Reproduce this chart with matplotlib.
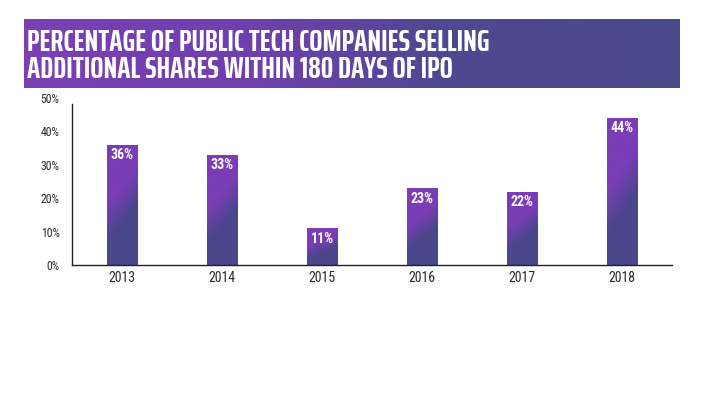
import numpy as np
import matplotlib
matplotlib.use("Agg")
import matplotlib.pyplot as plt
from matplotlib.colors import LinearSegmentedColormap

years = ["2013", "2014", "2015", "2016", "2017", "2018"]
pct = [36, 33, 11, 23, 22, 44]
yticks = [0, 10, 20, 30, 40, 50]
title = "PERCENTAGE OF PUBLIC TECH COMPANIES SELLING\nADDITIONAL SHARES WITHIN 180 DAYS OF IPO"

PURPLE = "#7a3db6"
BLUE = "#4a478b"
plt.rcParams["font.family"] = ["Roboto Condensed", "DejaVu Sans"]
TITLE_FONT = ["Saira ExtraCondensed", "Roboto Condensed", "DejaVu Sans"]

fig = plt.figure(figsize=(7.04, 3.96), dpi=100)

# title banner, gradient purple -> blue left to right
bax = fig.add_axes([24 / 704, 1 - 88 / 396, 656 / 704, 69 / 396])
bcmap = LinearSegmentedColormap.from_list("banner", [(0, "#7b3fb4"), (0.35, "#6f40ad"),
                                                     (0.65, "#4f4890"), (1, "#4a4a8a")])
bax.imshow(np.linspace(0, 1, 256)[None, :], aspect="auto", cmap=bcmap, extent=[0, 1, 0, 1])
bax.set_axis_off()
bax.text(0.004, 0.46, title, color="white", fontsize=22.5, fontweight="bold", family=TITLE_FONT,
         va="center", ha="left", linespacing=0.9, transform=bax.transAxes)

ax = fig.add_axes([72 / 704, 1 - 265 / 396, 600 / 704, 167 / 396])
x = np.arange(len(years))
w = 0.31
bars = ax.bar(x, pct, width=w, color="none", edgecolor="none")

# each bar gets its own diagonal gradient: purple top-left, blue bottom-right
bar_cmap = LinearSegmentedColormap.from_list("bar", [(0, BLUE), (0.35, BLUE), (0.65, PURPLE), (1, PURPLE)])
gx, gy = np.meshgrid(np.linspace(0, 1, 40), np.linspace(0, 1, 200))
grad = 0.8 * gy + 0.25 * (1 - gx)
for b, v in zip(bars, pct):
    x0 = b.get_x()
    im = ax.imshow(grad, origin="lower", aspect="auto", cmap=bar_cmap, vmin=0.1, vmax=0.95,
                   extent=[x0, x0 + w, 0, v], zorder=2)
    im.set_clip_path(b)
    ax.text(x0 + w / 2, v - 1.0, f"{v}%", ha="center", va="top",
            color="white", fontsize=10, fontweight="bold", zorder=3)

ax.set_xlim(-0.5, len(years) - 0.5)
ax.set_ylim(0, 50)
ax.set_xticks(x)
ax.set_xticklabels(years)
ax.set_yticks(yticks)
ax.set_yticklabels([f"{t}%" for t in yticks])
ax.tick_params(axis="both", length=0, colors="#2b2b2b")
ax.tick_params(axis="x", labelsize=10, pad=4)
ax.tick_params(axis="y", labelsize=8.5, pad=9)
for s in ["top", "right"]:
    ax.spines[s].set_visible(False)
ax.spines["left"].set_bounds(0, 48.2)
for s in ["left", "bottom"]:
    ax.spines[s].set_color("#222222")
    ax.spines[s].set_linewidth(1.0)

fig.savefig("out.png", dpi=100)
